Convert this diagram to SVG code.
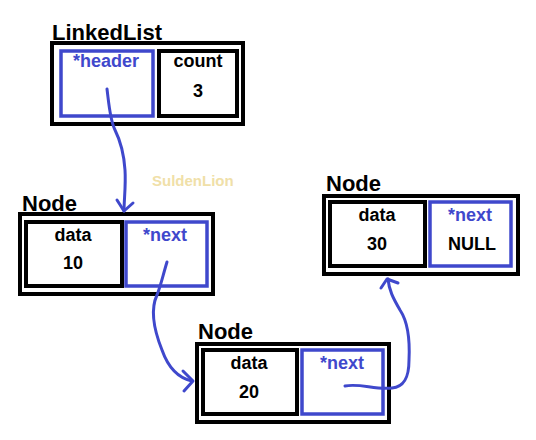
<svg xmlns="http://www.w3.org/2000/svg" width="536" height="440" viewBox="0 0 536 440">
<style>
.title{font-family:"Liberation Sans",Arial,sans-serif;font-weight:bold;font-size:22px;fill:#000}
.lbl{font-family:"Liberation Sans",Arial,sans-serif;font-weight:bold;font-size:18px;text-anchor:middle}
.k{fill:#000}
.b{fill:#3f48cc}
.outer{fill:#fff;stroke:#000;stroke-width:4}
.inb{fill:none;stroke:#000;stroke-width:4}
.inblue{fill:none;stroke:#3f48cc;stroke-width:3.5}
.wire{fill:none;stroke:#3f48cc;stroke-width:3;stroke-linecap:round;stroke-linejoin:round}
.wm{font-family:"Liberation Sans",Arial,sans-serif;font-weight:bold;font-size:15px;fill:#f0e0a8}
</style>
<rect width="536" height="440" fill="#fff"/>
<g id="linkedlist">
<text class="title" x="52" y="40">LinkedList</text>
<rect class="outer" x="52" y="43" width="191" height="81"/>
<rect class="inblue" x="61" y="51" width="92" height="65"/>
<rect class="inb" x="159" y="51" width="78" height="65"/>
<text class="lbl b" x="106" y="67">*header</text>
<text class="lbl k" x="198" y="67">count</text>
<text class="lbl k" x="198" y="97">3</text>
</g>
<g id="node1">
<text class="title" x="22" y="211">Node</text>
<rect class="outer" x="20" y="214" width="193" height="80"/>
<rect class="inb" x="26" y="222" width="96" height="64"/>
<rect class="inblue" x="126" y="222" width="81" height="64"/>
<text class="lbl k" x="73" y="241">data</text>
<text class="lbl k" x="73" y="269">10</text>
<text class="lbl b" x="165" y="241">*next</text>
</g>
<g id="node2">
<text class="title" x="198" y="339">Node</text>
<rect class="outer" x="197" y="344" width="192" height="78"/>
<rect class="inb" x="203" y="350" width="94" height="64"/>
<rect class="inblue" x="302" y="350" width="81" height="64"/>
<text class="lbl k" x="249" y="369">data</text>
<text class="lbl k" x="249" y="398">20</text>
<text class="lbl b" x="342" y="369">*next</text>
</g>
<g id="node3">
<text class="title" x="326" y="191">Node</text>
<rect class="outer" x="324" y="196" width="194" height="78"/>
<rect class="inb" x="330" y="202" width="95" height="64"/>
<rect class="inblue" x="430" y="202" width="81" height="64"/>
<text class="lbl k" x="377" y="221">data</text>
<text class="lbl k" x="377" y="250">30</text>
<text class="lbl b" x="470" y="221">*next</text>
<text class="lbl k" x="472" y="250">NULL</text>
</g>
<text class="wm" x="152" y="186">SuldenLion</text>
<g id="connectors">
<path class="wire" d="M107,89 C109,105 110,120 115,130 C121,142 124,155 125,170 C126,185 124,200 124,211"/>
<path class="wire" d="M117,200 L124,211 L133,203"/>
<path class="wire" d="M167,262 C163,275 161,285 157,295 C150,310 154,330 162,350 C168,367 178,378 192,381"/>
<path class="wire" d="M183,371 L193,381 L184,391"/>
<path class="wire" d="M345,386 C360,383 375,390 392,388 C404,387 409,378 409,360 C410,340 408,322 400,310 C393,298 389,290 388,279"/>
<path class="wire" d="M381,288 L387,279 L398,283"/>
</g>
</svg>
